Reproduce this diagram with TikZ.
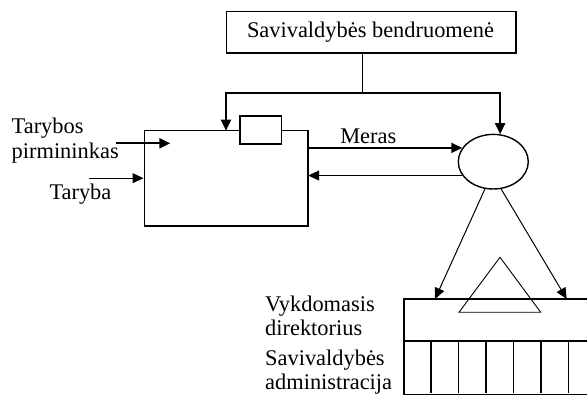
\documentclass[tikz,border=0pt]{standalone}
\usepackage{fontspec}
\setmainfont{Liberation Serif}
\usetikzlibrary{arrows.meta,shapes.geometric,calc}
\begin{document}
\begin{tikzpicture}[x=1pt,y=-1pt,
  txt/.style={font=\fontsize{22.4}{24.5}\selectfont, inner sep=0pt},
  thinln/.style={line width=1pt},
  thickln/.style={line width=2pt},
  tip/.style={-{Triangle[length=11pt,width=10pt]}},
]
\useasboundingbox (0,0) rectangle (587,395);

% top box
\node[draw, thinln, minimum width=289pt, minimum height=41pt, inner sep=0pt, txt] (top) at (370.5,32.2) {Savivaldybės bendruomenė};
\draw[thickln] (top.north east) -- (top.south east) -- (top.south west);
\coordinate (j) at (362.7,92.7);
\draw[thinln] (top.south -| j) -- (j);

% main box
\node[draw, thinln, minimum width=163.7pt, minimum height=95pt, inner sep=0pt] (mb) at (225.85,178.2) {};
\draw[thickln] (mb.north east) -- (mb.south east) -- (mb.south west);
\node[draw, line width=1.4pt, fill=white, minimum width=41.7pt, minimum height=28pt, inner sep=0pt] (sr) at (260.85,130.2) {};

% ellipse
\node[draw, line width=1.4pt, ellipse, minimum width=70pt, minimum height=54.6pt, inner sep=0pt] (el) at (493.3,161.7) {};

% branches from community
\coordinate (sl) at (226,130.7);
\draw[thickln, tip] (j) -| (sl);
\draw[thickln, tip] (j) -| (el.76);

% Meras
\draw[thickln, tip] (mb.east |- el.156) -- (el.156);
\node[txt, anchor=base] (meras) at (368.3,143.3) {Meras};
\draw[thinln, tip] (el.204) -- (mb.east |- el.204);

% left inputs
\node[txt, anchor=west, align=left] (tp) at (11.5,140.5) {Tarybos\\pirmininkas};
\coordinate (tpa) at (116,143.3);
\coordinate (tpb) at (170.3,143.3);
\draw[thickln, tip] (tpa) -- (tpb);
\node[txt, anchor=base west] (tb) at (49.3,200) {Taryba};
\coordinate (tba) at (89,178.2);
\draw[thinln, tip] (tba) -- (mb.west);

% bottom structure
\node[draw, line width=1.2pt, minimum width=196.7pt, minimum height=41pt, inner sep=0pt, anchor=north west] (vd) at (403.3,299) {};
\node[draw, line width=1.2pt, minimum width=196.7pt, minimum height=53.3pt, inner sep=0pt, anchor=north west] (adm) at (vd.south west) {};
\draw[thickln] (vd.north west) -- (vd.north east);
\draw[thickln] (adm.north west) -- (adm.north east);
\foreach \x/\w in {431/2,458.3/1,486/2,513.3/1,541/2,568.3/1}
  \draw[line width=\w pt] (\x,340) -- (\x,393.3);
\draw[line width=0.9pt] (500,257.3) -- (459,312.3) -- (540.7,312.3) -- cycle;

\coordinate (dl) at (435,299);
\coordinate (dr) at (566.7,299);
\draw[thinln, tip] (el.253) -- (dl);
\draw[thinln, tip] (el.286) -- (dr);

\node[txt, anchor=west, align=left] (vdl) at (265,316) {Vykdomasis\\direktorius};
\node[txt, anchor=west, align=left] (adml) at (265,372) {Savivaldybės\\administracija};
\end{tikzpicture}
\end{document}
